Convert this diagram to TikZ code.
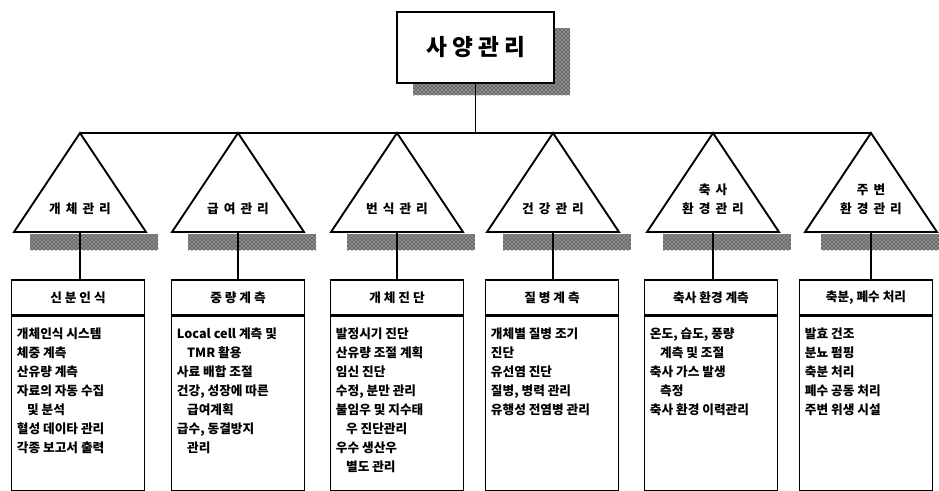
\documentclass[tikz,border=0pt]{standalone}
\usepackage{fontspec}
\newfontfamily\kr{Noto Sans CJK KR}
\usetikzlibrary{patterns}
\begin{document}
\begin{tikzpicture}[x=0.75pt,y=-0.75pt,
  tri/.style={draw, line width=1.4pt, fill=white, line join=miter},
  shadowfill/.style={fill=black!45, postaction={pattern=crosshatch dots, pattern color=black}},
  box/.style={draw, line width=1.2pt, fill=white, inner sep=0pt},
  conn/.style={line width=1.2pt},
  lbl/.style={font=\kr\bfseries\fontsize{9.5}{14}\selectfont, inner sep=0pt, align=center},
  item/.style={font=\kr\bfseries\fontsize{9.5}{14.25}\selectfont, align=left, anchor=north west, inner sep=0pt},
  ttl/.style={box, font=\kr\bfseries\fontsize{9.5}{11}\selectfont, minimum width=99.75pt, minimum height=26.25pt, anchor=north},
  body/.style={box, minimum width=99.75pt, minimum height=130.5pt, anchor=north}
]
\useasboundingbox (0,0) rectangle (939,490);
% top box
\fill[shadowfill] (413,28) rectangle (570,95);
\node[box, minimum width=117.75pt, minimum height=53.25pt] (top) at (475.5,47.5) {\kr\bfseries\fontsize{17}{20}\selectfont 사 양 관 리};
\coordinate (bus) at (475,133);
\coordinate (busL) at (80,133);
\coordinate (busR) at (871,133);
\draw[conn] (top.south) -- (top.south |- bus);
\draw[conn] (busL) -- (busR);

% triangles and boxes
\foreach \i/\ax/\bx/\tl/\tt/\items in {
 1/80/78/{개 \,체 \,관 \,리}/{신 분 인 식}/{개체인식 시스템\\체중 계측\\산유량 계측\\자료의 자동 수집\\\hspace*{0.8em}및 분석\\혈성 데이타 관리\\각종 보고서 출력},
 2/238/238/{급 \,여 \,관 \,리}/{중 량 계 측}/{Local cell 계측 및\\\hspace*{0.8em}TMR 활용\\사료 배합 조절\\건강, 성장에 따른\\\hspace*{0.8em}급여계획\\급수, 동결방지\\\hspace*{0.8em}관리},
 3/397/397/{번 \,식 \,관 \,리}/{개 체 진 단}/{발정시기 진단\\산유량 조절 계획\\임신 진단\\수정, 분만 관리\\불임우 및 지수태\\\hspace*{0.8em}우 진단관리\\우수 생산우\\\hspace*{0.8em}별도 관리},
 4/553/552/{건 \,강 \,관 \,리}/{질 병 계 측}/{개체별 질병 조기\\진단\\유선염 진단\\질병, 병력 관리\\유행성 전염병 관리},
 5/713/711/{축 \,사\\환 \,경 \,관 \,리}/{축사 환경 계측}/{온도, 습도, 풍량\\\hspace*{0.8em}계측 및 조절\\축사 가스 발생\\\hspace*{0.8em}측정\\축사 환경 이력관리},
 6/871/866/{주 \,변\\환 \,경 \,관 \,리}/{축분, 폐수 처리}/{발효 건조\\분뇨 펌핑\\축분 처리\\폐수 공동 처리\\주변 위생 시설}}
{
  \fill[shadowfill] (\ax-50,234) rectangle (\ax+78,250);
  \draw[tri] (\ax,133) -- (\ax+66,232) -- (\ax-66,232) -- cycle;
  \node[lbl, anchor=south] (l\i) at (\ax,215) {\tl};
  \coordinate (b\i) at (\ax,232);
  \node[ttl] (t\i) at (\bx,279) {\tt};
  \node[body] (d\i) at (t\i.south) {};
  \node[item] (i\i) at ([xshift=4.5pt,yshift=-9pt]d\i.north west) {\items};
  \draw[conn] (b\i) -- (b\i |- t\i.north);
}
\end{tikzpicture}
\end{document}
